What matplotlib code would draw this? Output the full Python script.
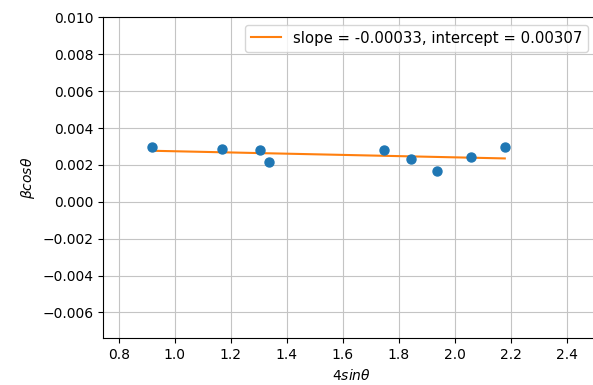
import numpy as np
import matplotlib
matplotlib.use('Agg')
import matplotlib.pyplot as plt

# data
x = [0.920, 1.168, 1.305, 1.337, 1.748, 1.843, 1.937, 2.058, 2.179]
y = [0.00298, 0.00286, 0.00280, 0.00215, 0.00280, 0.00230, 0.00168, 0.00241, 0.00295]
slope = -0.00033
intercept = 0.00307

fig = plt.figure(figsize=(5.93, 3.85), dpi=100)
ax = fig.add_axes([0.1742, 0.1213, 0.8357, 0.8337])

ax.scatter(x, y, color='C0', s=42, zorder=3)
xs = np.array([min(x), max(x)])
ax.plot(xs, slope * xs + intercept, color='C1',
        label='slope = %.5f, intercept = %.5f' % (slope, intercept))

ax.set_xlim(0.745, 2.515)
ax.set_ylim(-0.0074, 0.010)
ax.set_yticks(np.arange(-0.006, 0.0101, 0.002))
ax.set_xticks(np.arange(0.8, 2.41, 0.2))
ax.set_xlabel(r'$4sin\theta$')
ax.set_ylabel(r'$\beta cos\theta$')
ax.grid(True, color='#c4c4c4')
ax.legend(loc='upper right', bbox_to_anchor=(0.993, 1.0), fontsize=10.7)

fig.savefig('out.png', dpi=100)
